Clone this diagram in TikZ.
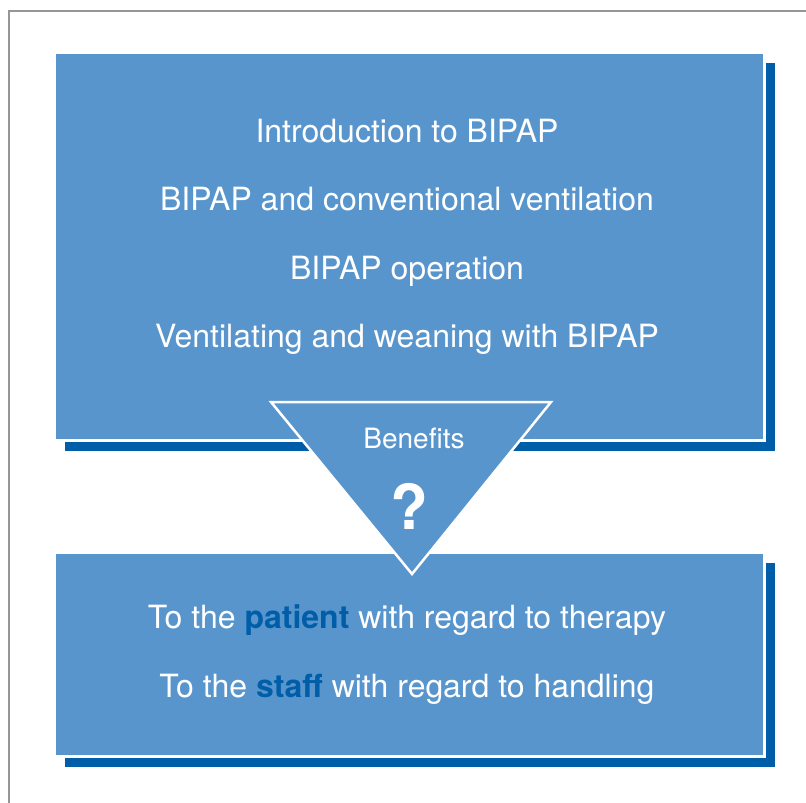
\documentclass[tikz,border=0pt]{standalone}
\usepackage{fontspec}
\setmainfont{TeX Gyre Heros}
\usetikzlibrary{shadows}
\definecolor{boxblu}{RGB}{88,149,205}
\definecolor{darkblu}{RGB}{0,94,168}
\definecolor{framegray}{RGB}{150,150,150}
\begin{document}
\begin{tikzpicture}[x=1pt,y=-1pt,
        box/.style={rectangle,fill=boxblu,draw=white,line width=3pt,minimum width=710pt,
            drop shadow={shadow xshift=10pt,shadow yshift=-10pt,fill=darkblu,opacity=1}},
        txt/.style={anchor=base,text=white,font=\fontsize{32}{38}\selectfont}]
        \useasboundingbox (0,0) rectangle (806,803);
        \draw[framegray,line width=1.5pt] (9,803) -- (9,11) -- (806,11);
        % boxes
        \node[box,minimum height=388pt] (topbox) at (409.5,246.5) {};
        \node[box,minimum height=204pt] (lowbox) at (409.5,654.5) {};
        \node[txt] (intro) at (407,142) {Introduction to BIPAP};
        \node[txt] (conv) at (407,210) {BIPAP and conventional ventilation};
        \node[txt] (oper) at (407,279) {BIPAP operation};
        \node[txt] (wean) at (407,347) {Ventilating and weaning with BIPAP};
        % triangle
        \coordinate (tl) at (271,402);
        \coordinate (tr) at (551,402);
        \coordinate (tip) at (412,574);
        \draw[white,line width=2.5pt,fill=boxblu] (tl) -- (tr) -- (tip) -- cycle;
        \node[txt,font=\fontsize{28}{32}\selectfont] (benefits) at (414,448) {Benefits};
        \node[txt,font=\bfseries\fontsize{62}{70}\selectfont] (qmark) at (409,529) {?};
        \node[txt] (patient) at (407,628) {To the \textbf{\color{darkblu}patient} with regard to therapy};
        \node[txt] (staff) at (407,697) {To the \textbf{\color{darkblu}staff} with regard to handling};
    \end{tikzpicture}
\end{document}
